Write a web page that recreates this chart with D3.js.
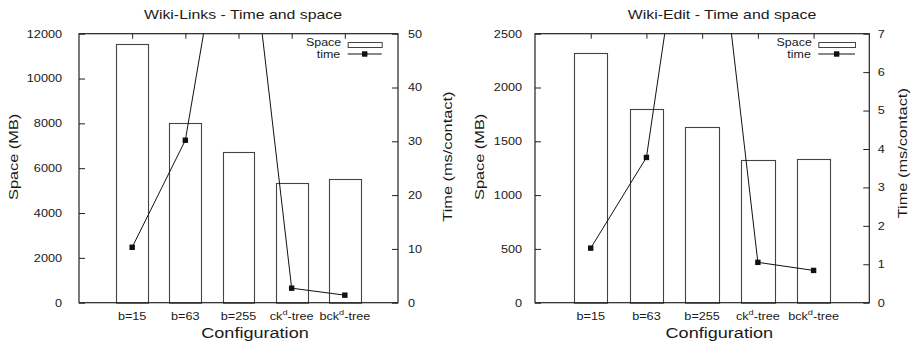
<!DOCTYPE html>
<html>
<head>
<meta charset="utf-8">
<script src="https://cdn.jsdelivr.net/npm/d3@7"></script>
<style>
  html, body { margin: 0; padding: 0; background: #fff; }
  svg { display: block; font-family: "Liberation Sans", Arial, Helvetica, sans-serif; }
  text { fill: #1a1a1a; }
</style>
</head>
<body>
<svg id="chart" width="916" height="346"></svg>
<script>
// Configurations on the x axis ("^" marks a superscript part)
const categories = ["b=15", "b=63", "b=255", "ck^d-tree", "bck^d-tree"];

// Wiki-Links: space in MB, query time in ms/contact
const linksSpace = [11550, 8000, 6740, 5340, 5500];
const linksTime = [10.3, 30.2, 88, 2.7, 1.4];
const linksSpaceTicks = [0, 2000, 4000, 6000, 8000, 10000, 12000];
const linksTimeTicks = [0, 10, 20, 30, 40, 50];

// Wiki-Edit: space in MB, query time in ms/contact
const editSpace = [2320, 1800, 1633, 1323, 1333];
const editTime = [1.42, 3.78, 13.6, 1.05, 0.84];
const editSpaceTicks = [0, 500, 1000, 1500, 2000, 2500];
const editTimeTicks = [0, 1, 2, 3, 4, 5, 6, 7];

// the lettering is set wide: glyphs are stretched along the text direction
const SX = 1.23;

const svg = d3.select("#chart");

// widen a text element around its own anchor point
function widen(el) {
  const x = +el.attr("x") || 0;
  const y = +el.attr("y") || 0;
  el.attr("transform", `translate(${x},${y}) scale(${SX},1) translate(${-x},${-y})`);
}

function drawPanel(p) {
  const x = d3.scaleLinear().domain([-1, categories.length]).range([p.left, p.right]);
  const yS = d3.scaleLinear().domain([0, d3.max(p.spaceTicks)]).range([p.bottom, p.top]);
  const yT = d3.scaleLinear().domain([0, d3.max(p.timeTicks)]).range([p.bottom, p.top]);
  const g = svg.append("g");

  const clipId = "clip-" + p.id;
  svg.append("clipPath").attr("id", clipId)
    .append("rect")
    .attr("x", p.left).attr("y", p.top)
    .attr("width", p.right - p.left).attr("height", p.bottom - p.top);

  // top ticks at each configuration
  g.append("g")
    .attr("transform", `translate(0,${p.top})`)
    .call(d3.axisTop(x).tickValues(d3.range(categories.length))
      .tickSizeInner(-5).tickSizeOuter(0).tickFormat(""))
    .call(a => a.select(".domain").remove())
    .call(a => a.selectAll("line").attr("stroke", "#222"));

  // bars (space)
  const bw = 0.6;
  g.append("g").selectAll("rect")
    .data(p.space)
    .join("rect")
    .attr("x", (d, i) => Math.round(x(i - bw / 2)) + 0.5)
    .attr("width", (d, i) => Math.round(x(i + bw / 2)) - Math.round(x(i - bw / 2)))
    .attr("y", d => Math.round(yS(d)) + 0.5)
    .attr("height", d => p.bottom - Math.round(yS(d)))
    .attr("fill", "#fff")
    .attr("stroke", "#444")
    .attr("stroke-width", 1.1);

  const tickFont = 10.3;

  // left axis (space)
  g.append("g")
    .attr("transform", `translate(${p.left},0)`)
    .call(d3.axisLeft(yS).tickValues(p.spaceTicks).tickFormat(d3.format("d"))
      .tickSizeInner(-6).tickSizeOuter(0).tickPadding(p.leftPad))
    .call(a => a.select(".domain").remove())
    .call(a => a.selectAll("line").attr("stroke", "#222"))
    .call(a => a.selectAll("text").attr("font-size", tickFont).attr("fill", "#1a1a1a")
      .style("font-family", "Liberation Sans, Arial, sans-serif")
      .each(function () { widen(d3.select(this)); }));

  // right axis (time)
  g.append("g")
    .attr("transform", `translate(${p.right},0)`)
    .call(d3.axisRight(yT).tickValues(p.timeTicks).tickFormat(d3.format("d"))
      .tickSizeInner(-6).tickSizeOuter(0).tickPadding(p.rightPad))
    .call(a => a.select(".domain").remove())
    .call(a => a.selectAll("line").attr("stroke", "#222"))
    .call(a => a.selectAll("text").attr("font-size", tickFont).attr("fill", "#1a1a1a")
      .style("font-family", "Liberation Sans, Arial, sans-serif")
      .each(function () { widen(d3.select(this)); }));

  // time line with square markers, clipped to the plot frame
  const line = d3.line().x((d, i) => x(i)).y(d => yT(d));
  const lg = g.append("g").attr("clip-path", `url(#${clipId})`);
  lg.append("path")
    .datum(p.time)
    .attr("d", line)
    .attr("fill", "none")
    .attr("stroke", "#111")
    .attr("stroke-width", 1);
  lg.selectAll("rect.m")
    .data(p.time)
    .join("rect")
    .attr("class", "m")
    .attr("x", (d, i) => x(i) - 2.7)
    .attr("y", d => yT(d) - 2.7)
    .attr("width", 5.4).attr("height", 5.4)
    .attr("fill", "#111");

  // plot frame
  g.append("rect")
    .attr("x", p.left).attr("y", p.top)
    .attr("width", p.right - p.left).attr("height", p.bottom - p.top)
    .attr("fill", "none").attr("stroke", "#222").attr("stroke-width", 1.2);

  // category labels with superscripts
  categories.forEach((c, i) => {
    const t = g.append("text")
      .attr("x", x(i)).attr("y", 320)
      .attr("text-anchor", "middle")
      .attr("font-size", tickFont);
    const m = c.split("^");
    if (m.length === 1) {
      t.text(c);
    } else {
      const sup = m[1][0];
      const rest = m[1].slice(1);
      t.append("tspan").text(m[0]);
      t.append("tspan").attr("font-size", 7.5).attr("dy", -4.5).text(sup);
      t.append("tspan").attr("dy", 4.5).text(rest);
    }
    widen(t);
  });

  // titles and axis labels
  widen(g.append("text")
    .attr("x", p.titleX).attr("y", 19.5)
    .attr("text-anchor", "middle").attr("font-size", 12.9)
    .text(p.title));
  widen(g.append("text")
    .attr("x", p.xLabelX).attr("y", 338)
    .attr("text-anchor", "middle").attr("font-size", 14.7)
    .text("Configuration"));
  g.append("text")
    .attr("transform", `translate(${p.spaceLabelX},${p.spaceLabelY}) rotate(-90) scale(${SX},1)`)
    .attr("text-anchor", "start").attr("font-size", 13.3)
    .text("Space (MB)");
  g.append("text")
    .attr("transform", `translate(${p.timeLabelX},${p.timeLabelY}) rotate(-90) scale(${SX},1)`)
    .attr("text-anchor", "start").attr("font-size", 13.3)
    .text("Time (ms/contact)");

  // legend
  const L = p.legend;
  widen(g.append("text")
    .attr("x", L.x0 - 6.5).attr("y", 46.4)
    .attr("text-anchor", "end").attr("font-size", 10.1)
    .text("Space"));
  g.append("rect")
    .attr("x", L.x0 + 0.5).attr("y", 42.5)
    .attr("width", L.x1 - L.x0).attr("height", 5)
    .attr("fill", "#fff").attr("stroke", "#444");
  widen(g.append("text")
    .attr("x", L.x0 - 7.5).attr("y", 57.8)
    .attr("text-anchor", "end").attr("font-size", 10.1)
    .text("time"));
  g.append("line")
    .attr("x1", L.x0).attr("x2", L.x1)
    .attr("y1", 54).attr("y2", 54)
    .attr("stroke", "#111");
  g.append("rect")
    .attr("x", (L.x0 + L.x1) / 2 - 2.7).attr("y", 54 - 2.7)
    .attr("width", 5.4).attr("height", 5.4)
    .attr("fill", "#111");
}

drawPanel({
  id: "links",
  title: "Wiki-Links - Time and space",
  space: linksSpace, time: linksTime,
  spaceTicks: linksSpaceTicks, timeTicks: linksTimeTicks,
  left: 79, right: 398, top: 33.7, bottom: 302.7,
  leftPad: 17, rightPad: 10,
  titleX: 243, xLabelX: 255,
  spaceLabelX: 18, spaceLabelY: 200,
  timeLabelX: 452, timeLabelY: 221.7,
  legend: { x0: 347.7, x1: 381.7 }
});

drawPanel({
  id: "edit",
  title: "Wiki-Edit - Time and space",
  space: editSpace, time: editTime,
  spaceTicks: editSpaceTicks, timeTicks: editTimeTicks,
  left: 535, right: 869.3, top: 33.7, bottom: 302.7,
  leftPad: 13, rightPad: 8.5,
  titleX: 722, xLabelX: 719.3,
  spaceLabelX: 483.5, spaceLabelY: 200,
  timeLabelX: 907, timeLabelY: 218.3,
  legend: { x0: 818.3, x1: 855 }
});
</script>
</body>
</html>
